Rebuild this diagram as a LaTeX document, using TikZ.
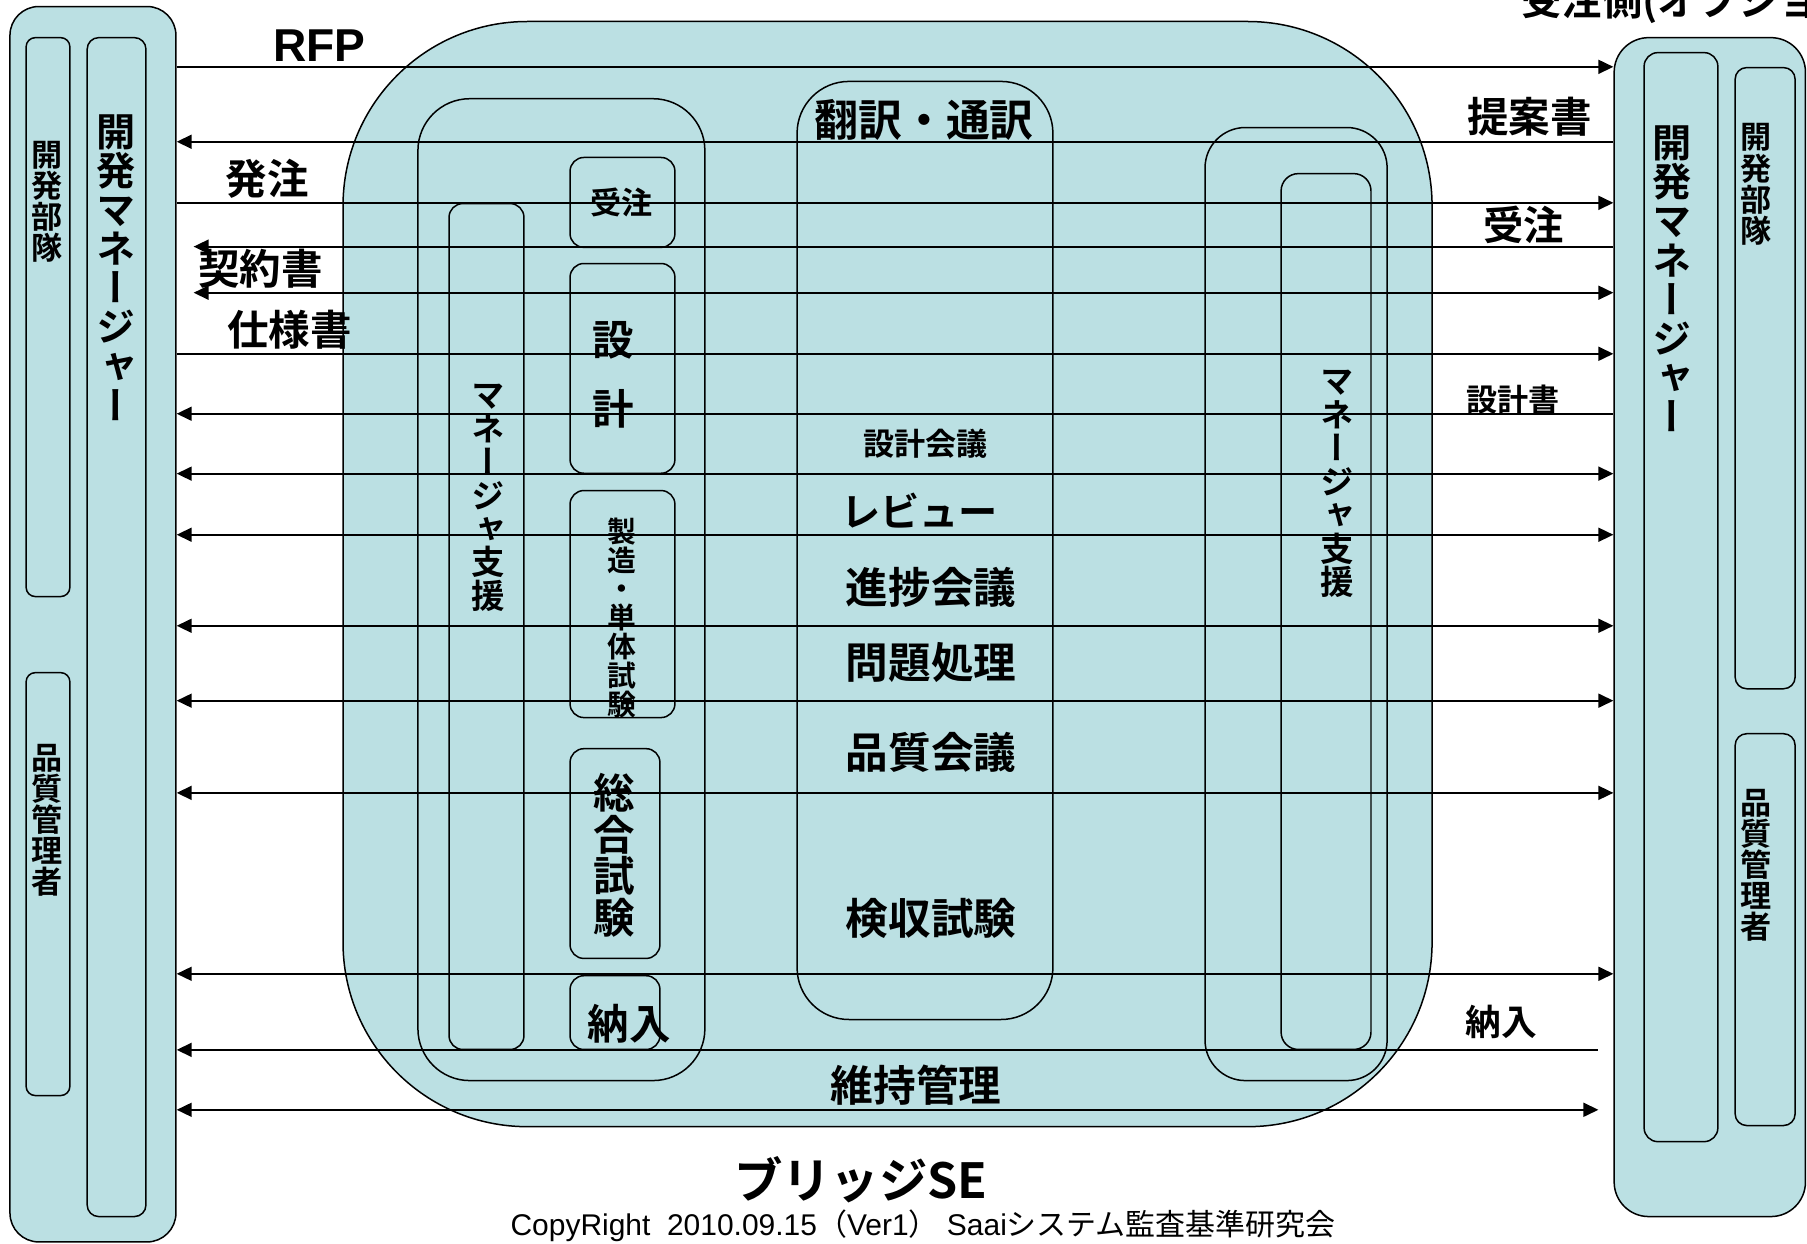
\documentclass[tikz,border=0pt]{standalone}
\usepackage{fontspec}
\setmainfont{Liberation Sans}
\newfontfamily\jp[UprightFont=* Bold]{Noto Sans CJK JP}
\newfontfamily\jpv[UprightFont=* Bold, RawFeature=+vert]{Noto Sans CJK JP}
\newfontfamily\jpr{Noto Sans CJK JP}
\usepackage{tikz}
\usetikzlibrary{arrows.meta}
\definecolor{bridgeblue}{RGB}{187,224,227}

\begin{document}
\begin{tikzpicture}[x=1pt, y=-1pt, >={Triangle[length=13pt,width=12pt]},
  pane/.style={draw, line width=1.3pt, fill=bridgeblue, anchor=north west, inner sep=0pt},
  rim/.style={draw, line width=1.3pt, anchor=north west, inner sep=0pt},
  flow/.style={line width=1.8pt},
  lbl/.style={inner sep=0pt, font=\jp\fontsize{#1}{#1}\selectfont},
  vlbl/.style={inner sep=0pt, align=center, font=\jpv\fontsize{#1}{#1}\selectfont}]
\useasboundingbox (0,0) rectangle (1568,1079);
\clip (0,0) rectangle (1568,1079);
%\draw[very thin,color=gray] (0,0) grid[step=100] (1568,1079);

% blue panels
\node[pane, rounded corners=160, minimum width=945, minimum height=959] (bridge) at (297,18) {};
\node[pane, rounded corners=25, minimum width=144, minimum height=1072] (ordSide) at (8,5) {};
\node[pane, rounded corners=30, minimum width=166, minimum height=1023] (rcvSide) at (1400,32) {};

% arrows between the two sides
\coordinate (kL) at (168,0);
\coordinate (kR) at (1387,0);
\foreach \y in {58, 176, 307}
  \draw[flow, ->] (ordSide.east |- 0,\y) -- (rcvSide.west |- 0,\y);
\foreach \y in {123, 359}
  \draw[flow, <-] (ordSide.east |- 0,\y) -- (rcvSide.west |- 0,\y);
\foreach \y in {411, 464, 543, 608, 688, 845}
  \draw[flow, <->] (ordSide.east |- 0,\y) -- (rcvSide.west |- 0,\y);
\draw[flow, <-] (kL |- 0,214) -- (rcvSide.west |- 0,214);
\draw[flow, <->] (kL |- 0,254) -- (rcvSide.west |- 0,254);
\draw[flow, <-] (ordSide.east |- 0,911) -- (kR |- 0,911);
\draw[flow, <->] (ordSide.east |- 0,963) -- (kR |- 0,963);

% left side
\node[rim, rounded corners=8, minimum width=38, minimum height=485] (ordDev) at (22,32) {};
\node[rim, rounded corners=8, minimum width=38, minimum height=367] (ordQA) at (22,583) {};
\node[rim, rounded corners=10, minimum width=51, minimum height=1023] (ordMgr) at (75,32) {};
\node[vlbl=27] (ordDevT) at (41,175) {開\\発\\部\\隊};
\node[vlbl=27] (ordQAT) at (41,712) {品\\質\\管\\理\\者};
\node[vlbl=34] (ordMgrT) at (101,232) {開\\発\\マ\\ネ\\ー\\ジ\\ャ\\ー};

% right side
\node[rim, rounded corners=12, minimum width=64, minimum height=945] (rcvMgr) at (1426,45) {};
\node[rim, rounded corners=10, minimum width=52, minimum height=539] (rcvDev) at (1505,58) {};
\node[rim, rounded corners=10, minimum width=52, minimum height=340] (rcvQA) at (1505,636) {};
\node[vlbl=34] (rcvMgrT) at (1451,242) {開\\発\\マ\\ネ\\ー\\ジ\\ャ\\ー};
\node[vlbl=27] (rcvDevT) at (1524,160) {開\\発\\部\\隊};
\node[vlbl=27] (rcvQAT) at (1524,751) {品\\質\\管\\理\\者};
\node[lbl=35, anchor=west] (rcvTitle) at (1320,2) {受注側(オプション)};

% bridge SE
\node[rim, rounded corners=45, minimum width=249, minimum height=852] (bridgeL) at (362,85) {};
\node[rim, rounded corners=12, minimum width=65, minimum height=734] (mgrSupL) at (389,176) {};
\node[rim, rounded corners=12, minimum width=91, minimum height=78] (juchu) at (494,136) {};
\node[rim, rounded corners=12, minimum width=91, minimum height=182] (sekkei) at (494,228) {};
\node[rim, rounded corners=12, minimum width=91, minimum height=197] (seizo) at (494,425) {};
\node[rim, rounded corners=12, minimum width=78, minimum height=182] (sogo) at (494,649) {};
\node[rim, rounded corners=12, minimum width=78, minimum height=64] (nonyu) at (494,846) {};
\node[rim, rounded corners=45, minimum width=222, minimum height=814] (trans) at (691,70) {};
\node[rim, rounded corners=35, minimum width=158, minimum height=827] (bridgeR) at (1045,110) {};
\node[rim, rounded corners=15, minimum width=78, minimum height=760] (mgrSupR) at (1111,150) {};

\node[vlbl=29] (mgrSupLT) at (424,432) {マ\\ネ\\ー\\ジ\\ャ\\支\\援};
\node[vlbl=29] (mgrSupRT) at (1160,420) {マ\\ネ\\ー\\ジ\\ャ\\支\\援};
\node[lbl=27] (juchuT) at (539,176) {受注};
\node[vlbl=36] (sekkeiT) at (532,325) {設\\[24pt]計};
\node[vlbl=25] (seizoT) at (540,536) {製\\造\\・\\単\\体\\試\\験};
\node[vlbl=36] (sogoT) at (533,742) {総\\合\\試\\験};
\node[lbl=36] (nonyuT) at (546,888) {納入};

\node[lbl=38] (transT) at (802,104) {翻訳・通訳};
\node[lbl=27] (mtgDesign) at (803,385) {設計会議};
\node[lbl=34] (review) at (798,443) {レビュー};
\node[lbl=37] (mtgProgress) at (808,510) {進捗会議};
\node[lbl=37] (issue) at (808,575) {問題処理};
\node[lbl=37] (mtgQuality) at (808,653) {品質会議};
\node[lbl=37] (accept) at (808,797) {検収試験};
\node[lbl=37] (maint) at (795,942) {維持管理};

% arrow labels
\node[inner sep=0pt, font=\bfseries\fontsize{40}{40}\selectfont] (rfp) at (277,40) {RFP};
\node[lbl=36] (proposal) at (1327,101) {提案書};
\node[lbl=36] (order) at (232,155) {発注};
\node[lbl=35] (accepted) at (1322,195) {受注};
\node[lbl=36] (contract) at (226,233) {契約書};
\node[lbl=36] (spec) at (251,286) {仕様書};
\node[lbl=27] (design) at (1313,347) {設計書};
\node[lbl=31] (delivery) at (1303,887) {納入};

% captions
\node[lbl=42] (bridgeT) at (747,1024) {ブリッジSE};
\node[inner sep=0pt, font=\fontsize{26}{26}\selectfont] (copy) at (801,1064)
  {CopyRight\ \ 2010.09.15{\jpr （}Ver1{\jpr ）}\ Saai{\jpr システム監査基準研究会}};
\end{tikzpicture}
\end{document}
